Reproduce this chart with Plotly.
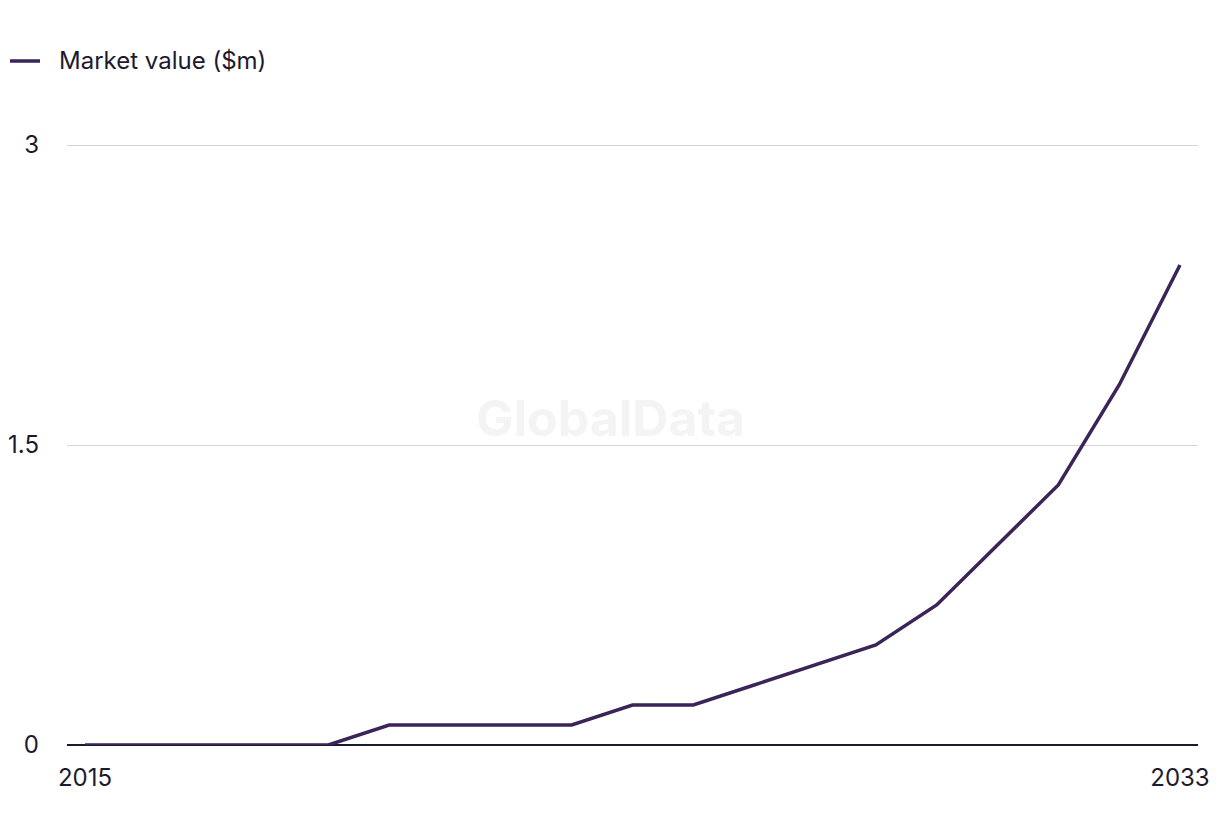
import plotly.graph_objects as go

years = list(range(2015, 2034))
market_value = [0, 0, 0, 0, 0, 0.1, 0.1, 0.1, 0.1, 0.2, 0.2, 0.3, 0.4, 0.5, 0.7, 1.0, 1.3, 1.8, 2.4]
series_name = "Market value ($m)"
y_ticks = [0, 1.5, 3]
y_tick_labels = ["0", "1.5", "3"]
x_ticks = [2015, 2033]
x_tick_labels = ["2015", "2033"]

text_color = "#1c1a2e"
line_color = "#3a2458"
font_family = "Inter, Liberation Sans, Arial, sans-serif"
FS = 24

W, H = 1220, 836
ML, MR, MT, MB = 67, 22, 105, 91
PW, PH = W - ML - MR, H - MT - MB


def px_x(px):
    return (px - ML) / PW


def px_y(py):
    return (H - MB - py) / PH


fig = go.Figure()
fig.add_trace(go.Scatter(
    x=years, y=market_value, mode="lines", name=series_name,
    line=dict(color=line_color, width=3.5), showlegend=False,
))

fig.update_layout(
    width=W, height=H,
    paper_bgcolor="white", plot_bgcolor="white",
    margin=dict(l=ML, r=MR, t=MT, b=MB, autoexpand=False),
    font=dict(family=font_family, size=FS, color=text_color),
    showlegend=False,
    xaxis=dict(
        range=[2015 - 0.296, 2033 + 0.296],
        tickvals=x_ticks, ticktext=x_tick_labels,
        showgrid=False, zeroline=False, showline=False, ticks="",
        ticklabelstandoff=16, automargin=False,
        tickfont=dict(size=FS, color=text_color),
    ),
    yaxis=dict(
        range=[0, 3.2],
        tickvals=y_ticks, ticktext=y_tick_labels,
        showgrid=True, gridcolor="#d4d4d4", gridwidth=1,
        zeroline=True, zerolinecolor="#1c1a2e", zerolinewidth=2,
        showline=False, ticks="", ticklabelstandoff=27, automargin=False,
        tickfont=dict(size=FS, color=text_color),
    ),
    shapes=[dict(
        type="line", xref="paper", yref="paper",
        x0=px_x(10), x1=px_x(40), y0=px_y(61), y1=px_y(61),
        line=dict(color=line_color, width=3.5),
    )],
    annotations=[
        dict(
            text="<b>GlobalData</b>", x=0.5, y=px_y(418), xref="paper", yref="paper",
            xshift=-22, showarrow=False,
            font=dict(size=50, color="#f4f4f4", family=font_family),
        ),
        dict(
            text=series_name, x=px_x(57), y=px_y(61), xref="paper", yref="paper",
            xanchor="left", yanchor="middle", showarrow=False,
            font=dict(size=FS, color=text_color, family=font_family),
        ),
    ],
)

fig.write_html("out.html")
